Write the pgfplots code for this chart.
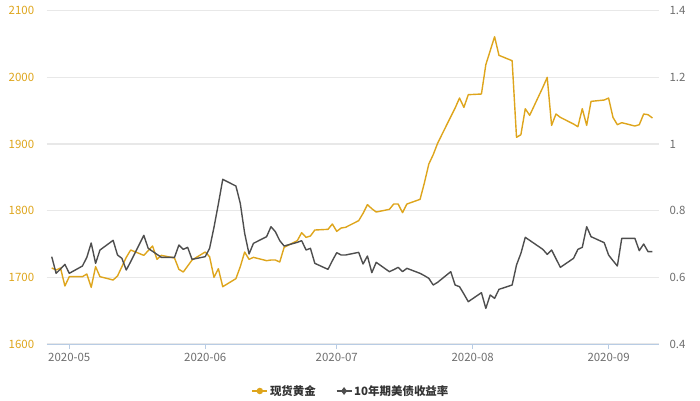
\documentclass[border=0pt]{standalone}
\usepackage{fontspec}
\setmainfont{Noto Sans CJK SC}
\usepackage{pgfplots}
\pgfplotsset{compat=1.18}
\definecolor{goldc}{RGB}{222,165,28}
\definecolor{yldc}{RGB}{78,78,78}
\definecolor{gridc}{RGB}{232,232,232}
\definecolor{axisc}{RGB}{184,204,228}
\definecolor{tickc}{RGB}{110,110,110}
\definecolor{legc}{RGB}{51,51,51}

\pgfplotstableread{
d v
-4 1714
-3 1711
-2 1714
-1 1687
0 1701
3 1701
4 1705
5 1685
6 1716
7 1701
10 1696
11 1702
12 1716
13 1730
14 1741
17 1733
18 1740
19 1747
20 1727
21 1733
24 1729
25 1712
26 1708
27 1717
28 1726
31 1738
32 1731
33 1700
34 1713
35 1686
38 1698
39 1716
40 1738
41 1727
42 1730
45 1725
46 1726
47 1726
48 1723
49 1745
52 1755
53 1767
54 1760
55 1762
56 1771
59 1772
60 1780
61 1769
62 1774
63 1775
66 1785
67 1796
68 1809
69 1803
70 1798
73 1802
74 1810
75 1810
76 1797
77 1810
80 1817
81 1842
82 1870
83 1884
84 1901
87 1941
88 1954
89 1969
90 1955
91 1974
94 1975
95 2019
96 2040
97 2061
98 2033
101 2025
102 1910
103 1914
104 1953
105 1943
108 1985
109 2000
110 1928
111 1945
112 1940
115 1930
116 1926
117 1953
118 1928
119 1964
122 1966
123 1969
124 1940
125 1929
126 1932
129 1927
130 1929
131 1945
132 1944
133 1939
}\golddata

\pgfplotstableread{
d v
-4 0.662
-3 0.612
-2 0.625
-1 0.639
0 0.612
3 0.634
4 0.660
5 0.703
6 0.642
7 0.682
10 0.711
11 0.667
12 0.657
13 0.622
14 0.647
17 0.726
18 0.687
19 0.678
20 0.669
21 0.660
24 0.660
25 0.697
26 0.684
27 0.690
28 0.654
31 0.662
32 0.687
33 0.750
34 0.820
35 0.894
38 0.874
39 0.822
40 0.732
41 0.670
42 0.702
45 0.722
46 0.752
47 0.737
48 0.710
49 0.694
52 0.705
53 0.710
54 0.682
55 0.687
56 0.642
59 0.624
60 0.650
61 0.674
62 0.667
63 0.667
66 0.675
67 0.640
68 0.664
69 0.614
70 0.645
73 0.617
74 0.623
75 0.630
76 0.617
77 0.627
80 0.612
81 0.605
82 0.597
83 0.577
84 0.585
87 0.617
88 0.577
89 0.572
90 0.550
91 0.527
94 0.554
95 0.507
96 0.547
97 0.537
98 0.564
101 0.577
102 0.637
103 0.672
104 0.720
105 0.711
108 0.684
109 0.669
110 0.682
111 0.656
112 0.630
115 0.657
116 0.684
117 0.690
118 0.752
119 0.722
122 0.704
123 0.667
124 0.650
125 0.634
126 0.717
129 0.717
130 0.680
131 0.700
132 0.677
133 0.677
}\ylddata

\begin{document}
\begin{tikzpicture}[x=1bp,y=1bp]
\path[use as bounding box] (0,0) rectangle (700,400);
\pgfplotsset{
  base/.style={
    at={(46.7bp,56bp)}, anchor=south west,
    scale only axis, width=612.3bp, height=333.3bp,
    xmin=-5.15, xmax=134.5,
    /pgf/number format/assume math mode=true,
    ticklabel style={font=\fontsize{11.5}{13}\selectfont},
  }
}
\begin{axis}[base,
  ymin=1600, ymax=2100,
  ytick={1600,1700,1800,1900,2000,2100},
  yticklabels={1600,1700,1800,1900,2000,2100},
  axis x line*=bottom, axis y line*=left,
  x axis line style={draw=axisc, line width=0.8bp, -},
  y axis line style={draw=none},
  xtick={0,31,61,92,123},
  xticklabels={2020-05,2020-06,2020-07,2020-08,2020-09},
  xtick align=outside,
  xtick style={draw=axisc, line width=0.8bp},
  major tick length=5bp,
  ytick style={draw=none},
  ymajorgrids, grid style={draw=gridc, line width=1.2bp},
  yticklabel style={text=goldc, xshift=-9bp},
  xticklabel style={text=tickc, yshift=-1bp},
]
\addplot[goldc, line width=1.4bp, line join=round, no markers] table[x=d,y=v] {\golddata};
\end{axis}
\begin{axis}[base,
  ymin=0.4, ymax=1.4,
  ytick={0.4,0.6,0.8,1,1.2,1.4},
  yticklabels={0.4,0.6,0.8,1,1.2,1.4},
  axis y line*=right, axis x line=none,
  y axis line style={draw=none},
  ytick style={draw=none},
  yticklabel style={text=tickc, xshift=7bp},
  legend columns=2,
  legend style={at={(0.497,-0.141)}, anchor=center, draw=none, fill=none,
    font=\fontsize{11.5}{13}\selectfont\bfseries, text=legc,
    /tikz/every even column/.append style={column sep=18bp}},
  legend image code/.code={
    \draw[#1, mark repeat=2, mark phase=2] plot coordinates {(0bp,0bp) (7.5bp,0bp) (15bp,0bp)};
  },
]
\addlegendimage{goldc, line width=1.4bp, mark=*, mark size=2.5bp, mark options={solid, fill=goldc}}
\addlegendentry{现货黄金}
\addplot[yldc, line width=1.4bp, line join=round, no markers, forget plot] table[x=d,y=v] {\ylddata};
\addlegendimage{yldc, line width=1.4bp, mark=diamond*, mark size=2.8bp, mark options={solid, fill=yldc}}
\addlegendentry{10年期美债收益率}
\end{axis}
\end{tikzpicture}
\end{document}
